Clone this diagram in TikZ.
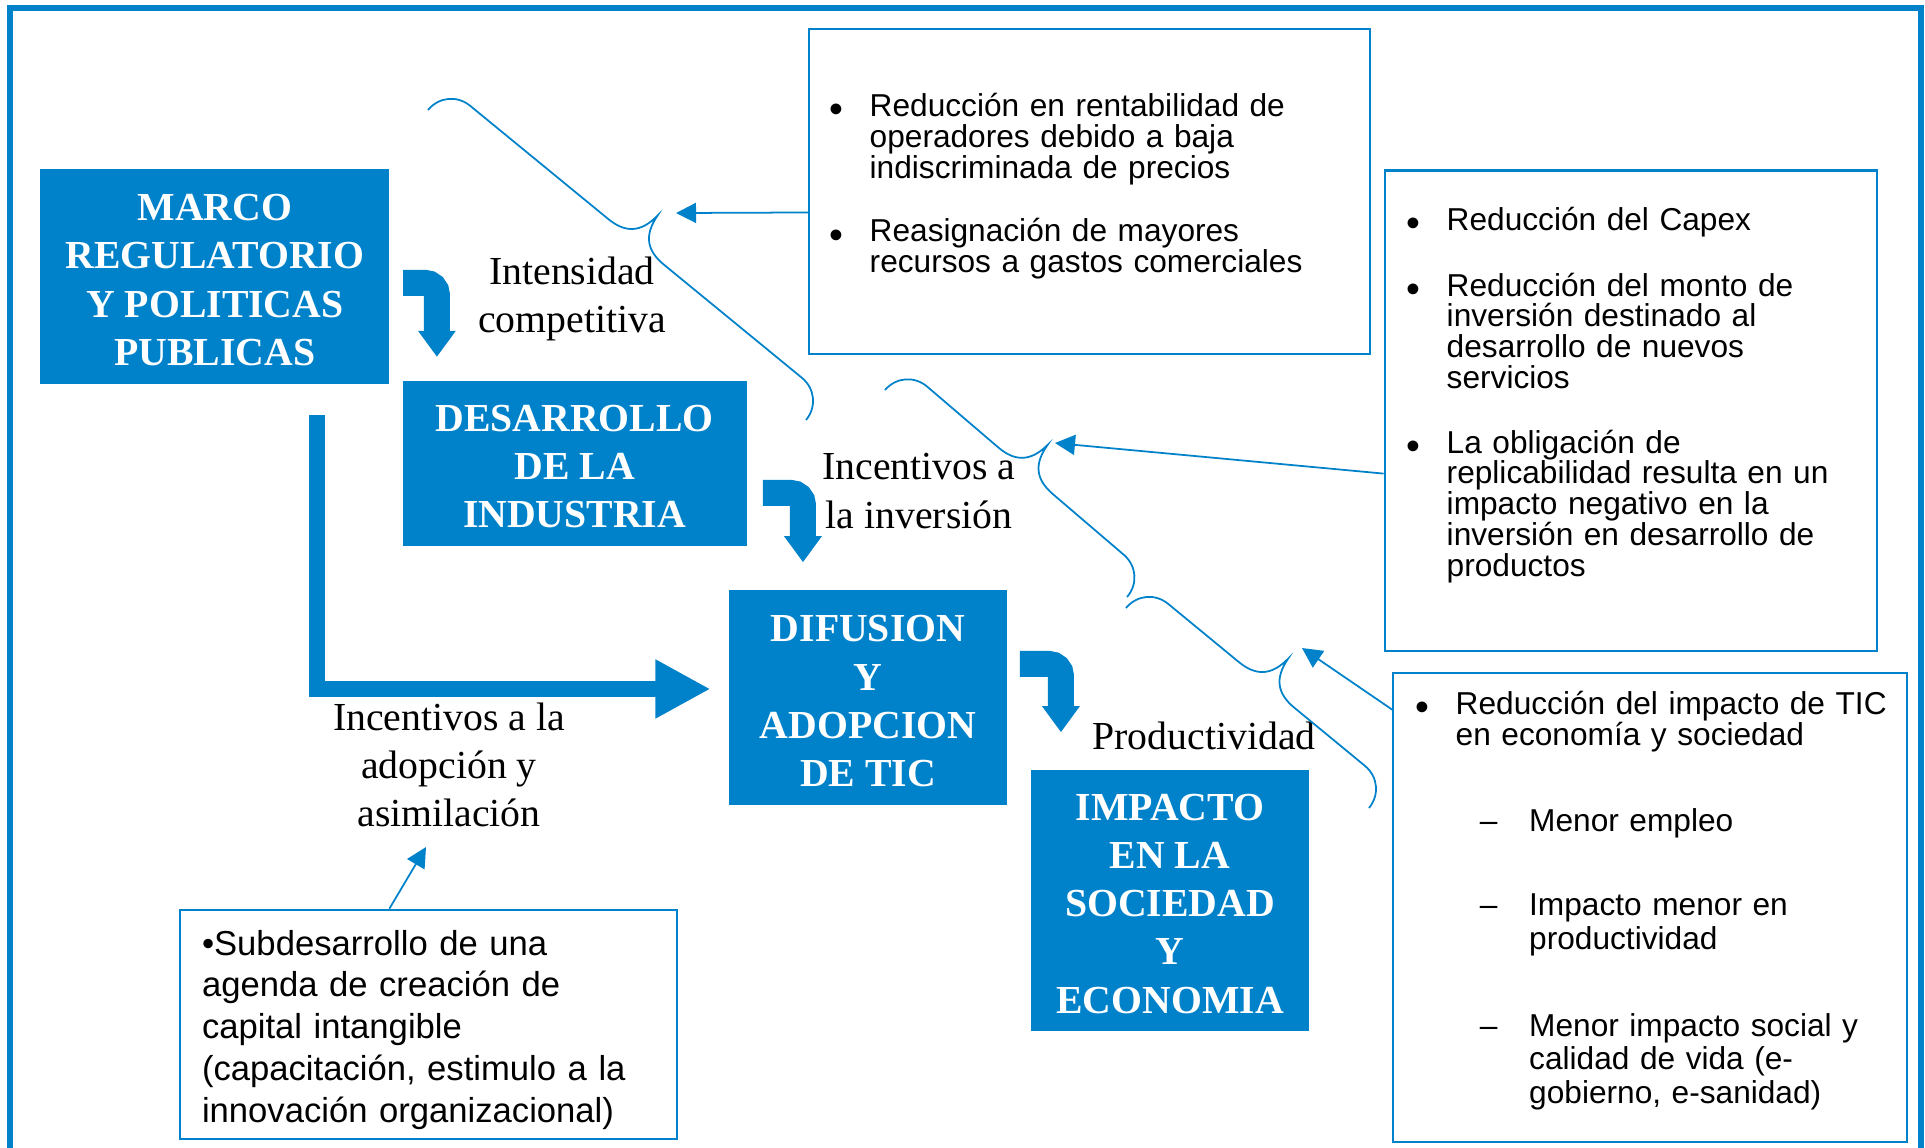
\documentclass[tikz,border=0pt]{standalone}
\usepackage{fontspec}
\setmainfont{Liberation Serif}
\newfontfamily\arialfont{Liberation Sans}
\usepackage{graphicx}
\usepackage{tikz}
\usetikzlibrary{arrows.meta}
\definecolor{tblue}{RGB}{0,130,202}
\newcommand{\bul}{\llap{\raisebox{-0.2em}{\scalebox{1.25}{\textbullet}}\hspace{7.4pt}}}
\newcommand{\dsh}{\llap{–\hspace{9pt}}}
\newcommand{\tp}{\rule{0pt}{9.3pt}}
% llave: inicio, angulo, largo
\newcommand{\llave}[3]{%
	\begin{scope}[shift={#1}, rotate=#2]
		\draw[brc] (0,0) .. controls (0,-17) and (13,-30) .. (30,-30) -- ({#3/2-36},-30)
			.. controls ({#3/2-14},-30) and ({#3/2-2},-40) .. ({#3/2},-64)
			.. controls ({#3/2+2},-40) and ({#3/2+14},-30) .. ({#3/2+36},-30) -- ({#3-30},-30)
			.. controls ({#3-13},-30) and (#3,-17) .. (#3,0);
	\end{scope}}

\tikzset{
	bluebox/.style={fill=tblue, text=white, align=center, inner sep=0pt, font=\bfseries\fontsize{11.3}{13.7}\selectfont},
	lbl/.style={align=center, inner sep=0pt, font=\fontsize{11.3}{13.7}\selectfont},
	listbox/.style={draw=tblue, line width=0.6pt, fill=white, inner sep=0pt},
	listtext/.style={anchor=base west, inner sep=0pt, text width=5cm, align=left, font=\arialfont\fontsize{9}{8.75}\selectfont},
	bendarrow/.style={draw=tblue, line width=0.26cm, rounded corners=0.12cm, -{Triangle[width=0.36cm,length=0.26cm]}},
	bigarrow/.style={draw=tblue, line width=0.155cm, line join=miter, -{Triangle[width=0.55cm,length=0.55cm]}},
	thinarrow/.style={draw=tblue, line width=0.5pt, -{Triangle[width=0.2cm,length=0.2cm]}},
	brc/.style={draw=tblue, line width=0.5pt},
}

\begin{document}
\begin{tikzpicture}[x=0.01cm,y=-0.01cm]
	\useasboundingbox (0,0) rectangle (1925,1147);
	\draw[tblue, line width=0.06cm] (10,8) rectangle (1921,1250);

	% bloques principales
	\node[bluebox, minimum width=3.487cm, minimum height=2.149cm] (marco) at (214.85,276.85) {\tp MARCO\\REGULATORIO\\Y POLITICAS\\PUBLICAS};
	\node[bluebox, minimum width=3.437cm, minimum height=1.657cm] (desarrollo) at (574.55,463.45) {\tp DESARROLLO\\DE LA\\INDUSTRIA};
	\node[bluebox, minimum width=2.774cm, minimum height=2.149cm] (difusion) at (868,697.95) {\tp DIFUSION\\Y\\ADOPCION\\DE TIC};
	\node[bluebox, minimum width=2.774cm, minimum height=2.615cm] (impacto) at (1170,900.55) {\tp IMPACTO\\EN LA\\SOCIEDAD\\Y\\ECONOMIA};

	\draw[bendarrow] ([xshift=0.13cm,yshift=-0.06cm]marco.east) -| ([xshift=0.35cm,yshift=0.23cm]desarrollo.north west);
	\draw[bendarrow] ([xshift=0.156cm,yshift=-0.295cm]desarrollo.east) -| ([xshift=-0.65cm,yshift=0.275cm]difusion.north);
	\draw[bendarrow] ([xshift=0.123cm,yshift=0.34cm]difusion.east) -| ([xshift=-1.09cm,yshift=0.368cm]impacto.north);
	\draw[bigarrow] ([xshift=1.02cm,yshift=-0.3cm]marco.south) |- ([xshift=-0.18cm,yshift=0.09cm]difusion.west);

	\node[lbl] (intens) at (572,299) {Intensidad\\competitiva};
	\node[lbl] (incinv) at (919,491) {Incentivos a\\la inversión};
	\node[lbl] (prod) at (1204,736) {Productividad};
	\node[lbl] (incadop) at (449,765) {Incentivos a la\\adopción y\\asimilación};

	% cuadros de efectos
	\node[listbox, minimum width=5.61cm, minimum height=3.241cm] (topbox) at (1089.5,191.55) {};
	\node[listbox, minimum width=4.924cm, minimum height=4.801cm] (rbox) at (1631,410.65) {};
	\node[listbox, minimum width=5.132cm, minimum height=4.69cm] (brbox) at (1650,907.3) {};
	\node[listbox, minimum width=4.96cm, minimum height=2.296cm] (blbox) at (428.5,1024.5) {};

	\node[listtext] (topA) at (869,116.6) {\bul Reducción en rentabilidad de\\operadores debido a baja\\indiscriminada de precios};
	\node[listtext] (topB) at (869,241.8) {\bul Reasignación de mayores\\recursos a gastos comerciales};

	\node[listtext] (rA) at (1446,230) {\bul Reducción del Capex};
	\node[listtext] (rB) at (1446,296) {\bul Reducción del monto de\\inversión destinado al\\desarrollo de nuevos\\servicios};
	\node[listtext] (rC) at (1446,453) {\bul La obligación de\\replicabilidad resulta en un\\impacto negativo en la\\inversión en desarrollo de\\productos};

	\node[listtext] (brA) at (1455,714.5) {\bul Reducción del impacto de TIC\\en economía y sociedad};
	\node[listtext, font=\arialfont\fontsize{9}{9.6}\selectfont] (brB) at (1528.5,831) {\dsh Menor empleo};
	\node[listtext, font=\arialfont\fontsize{9}{9.6}\selectfont] (brC) at (1528.5,915.8) {\dsh Impacto menor en\\productividad};
	\node[listtext, font=\arialfont\fontsize{9}{9.6}\selectfont] (brD) at (1528.5,1036) {\dsh Menor impacto social y\\calidad de vida (e-\\gobierno, e-sanidad)};

	\node[listtext, font=\arialfont\fontsize{9.85}{11.87}\selectfont] (blA) at (201.3,955) {•Subdesarrollo de una\\agenda de creación de\\capital intangible\\(capacitación, estimulo a la\\innovación organizacional)};

	% llaves y flechas finas
	\llave{(428,110)}{-39.35}{488.9}
	\llave{(885,390)}{-40.54}{318.5}
	\llave{(1126,608)}{-39.46}{314.7}
	\coordinate (c1) at (676,213);
	\coordinate (c2) at (1055,443);
	\coordinate (c3) at (1302,648);
	\coordinate (c4) at (426,847);
	\draw[thinarrow] ([yshift=-1.84cm]topbox.north west) -- (c1);
	\draw[thinarrow] ([yshift=-3.04cm]rbox.north west) -- (c2);
	\draw[thinarrow] ([yshift=-0.38cm]brbox.north west) -- (c3);
	\draw[thinarrow] ([xshift=2.1cm]blbox.north west) -- (c4);
\end{tikzpicture}
\end{document}
